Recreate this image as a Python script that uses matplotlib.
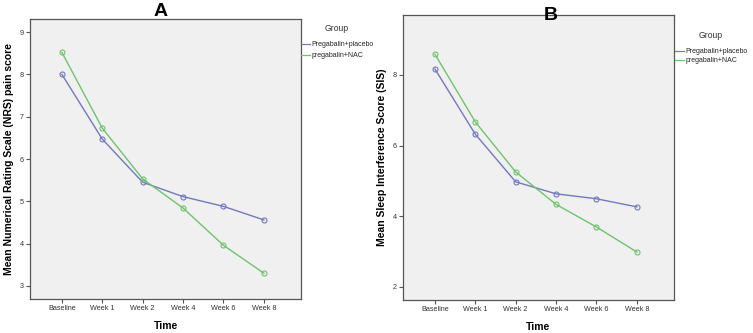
import matplotlib
matplotlib.use("Agg")
import matplotlib.pyplot as plt

plt.rcParams['font.family'] = ['Liberation Sans', 'DejaVu Sans']

time_points = ["Baseline", "Week 1", "Week 2", "Week 4", "Week 6", "Week 8"]
groups = ["Pregabalin+placebo", "pregabalin+NAC"]

nrs_placebo = [8.00, 6.47, 5.45, 5.11, 4.88, 4.56]
nrs_nac = [8.52, 6.73, 5.53, 4.84, 3.96, 3.30]

sis_placebo = [8.17, 6.32, 4.97, 4.63, 4.49, 4.26]
sis_nac = [8.59, 6.67, 5.25, 4.33, 3.69, 2.98]

nrs_ticks = [3, 4, 5, 6, 7, 8, 9]
sis_ticks = [2, 4, 6, 8]

blue = "#7279bd"
green = "#6ec46e"
bg = "#f0f0f0"

W, H = 753, 333
fig = plt.figure(figsize=(W / 100, H / 100), dpi=100)

def px_axes(l, t, r, b):
    return fig.add_axes([l / W, 1 - b / H, (r - l) / W, (b - t) / H])

axA = px_axes(30, 19, 301, 299)
axB = px_axes(403, 15, 674, 300)

def draw(ax, placebo, nac, ylim, yticks, ylabel, legend_anchor, spacing):
    x = list(range(len(time_points)))
    ax.set_facecolor(bg)
    l1, = ax.plot(x, placebo, color=blue, lw=1.0, marker='o', ms=3.6,
                  mfc='none', mec=blue, mew=0.8, label=groups[0])
    l2, = ax.plot(x, nac, color=green, lw=1.0, marker='o', ms=3.6,
                  mfc='none', mec=green, mew=0.8, label=groups[1])
    ax.set_xlim(-0.79, 5.92)
    ax.set_ylim(*ylim)
    ax.set_xticks(x)
    ax.set_xticklabels(time_points, fontsize=5.2, color="#333333")
    ax.set_yticks(yticks)
    ax.set_yticklabels([str(t) for t in yticks], fontsize=5.2, color="#333333")
    ax.tick_params(axis='both', length=3, width=0.8, color="#555555", pad=1.5)
    for s in ax.spines.values():
        s.set_color("#555555")
        s.set_linewidth(0.9)
    ax.set_ylabel(ylabel, fontsize=7.5, fontweight='bold', labelpad=4)
    ax.set_xlabel("Time", fontsize=7.5, fontweight='bold', labelpad=6)
    leg = ax.legend(handles=[l1, l2], labels=groups, title="Group",
                    loc='upper left', bbox_to_anchor=legend_anchor,
                    bbox_transform=fig.transFigure, frameon=False,
                    fontsize=5.0, title_fontsize=6.2, handlelength=1.3,
                    handletextpad=0.15, labelspacing=spacing, borderaxespad=0,
                    borderpad=0, markerscale=0)
    leg._legend_box.sep = 6
    for h in leg.legend_handles:
        h.set_marker('')
        h.set_linewidth(0.9)
    leg.get_title().set_color("#333333")
    for t in leg.get_texts():
        t.set_color("#222222")
    return leg

draw(axA, nrs_placebo, nrs_nac, (2.69, 9.31), nrs_ticks,
     "Mean Numerical Rating Scale (NRS) pain score", (301 / W, 1 - 24 / H), 0.55)
draw(axB, sis_placebo, sis_nac, (1.62, 9.70), sis_ticks,
     "Mean Sleep Interference Score (SIS)", (675 / W, 1 - 31 / H), 0.25)

fig.text(161 / W, 1 - 11 / H, "A", ha='center', va='center', fontsize=14, fontweight='bold')
fig.text(551 / W, 1 - 16 / H, "B", ha='center', va='center', fontsize=14, fontweight='bold')

fig.savefig("out.png", dpi=100, facecolor="white")
